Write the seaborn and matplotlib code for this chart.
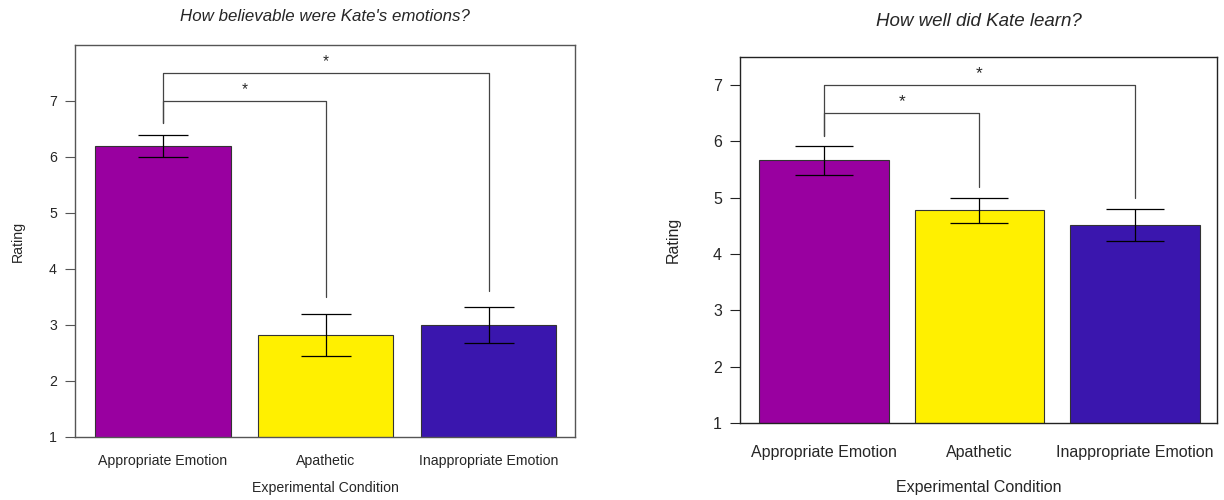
import pandas as pd
import seaborn as sns
import matplotlib.pyplot as plt

# dados
conditions = ['Appropriate Emotion', 'Apathetic', 'Inappropriate Emotion']
colors = ['#9900a0', '#fff000', '#3a16ae']

believe_mean = [6.2, 2.82, 3.0]
believe_low = [6.0, 2.45, 2.67]
believe_high = [6.4, 3.2, 3.33]

learn_mean = [5.67, 4.78, 4.51]
learn_low = [5.41, 4.56, 4.23]
learn_high = [5.92, 5.0, 4.8]

# colchetes de significância: (barra alvo, altura, base esquerda, base direita, altura da estrela)
believe_brackets = [(1, 7.0, 6.6, 3.5, 7.2), (2, 7.5, 6.6, 3.6, 7.7)]
learn_brackets = [(1, 6.5, 6.1, 5.2, 6.7), (2, 7.0, 6.1, 5.0, 7.2)]

sns.set_style('white')
plt.rcParams['font.family'] = ['Liberation Sans', 'DejaVu Sans']

fig = plt.figure(figsize=(12.24, 5), dpi=100)
ax1 = fig.add_axes([0.0613, 0.126, 0.4085, 0.784])
ax2 = fig.add_axes([0.6046, 0.154, 0.39, 0.732])


def painel(ax, mean, low, high, brackets, title, ylim, yticks, fs, capsize,
           frame, xpad, xlpad, tpad, ylpad):
    df = pd.DataFrame({'Condition': conditions, 'Rating': mean})
    sns.barplot(data=df, x='Condition', y='Rating', hue='Condition',
                palette=colors, saturation=1, width=0.83, edgecolor='#333333',
                linewidth=0.8, errorbar=None, legend=False, ax=ax)
    # barras de erro
    for i, (m, lo, hi) in enumerate(zip(mean, low, high)):
        ax.errorbar(i, m, yerr=[[m - lo], [hi - m]], color='black', lw=0.9,
                    capsize=capsize, capthick=0.9)
    # colchetes
    for j, h, base0, base1, star in brackets:
        ax.plot([0, 0, j, j], [base0, h, h, base1], color='#444444', lw=0.9)
        ax.text(j / 2, star, '*', ha='center', va='center', fontsize=fs + 1)
    ax.set_ylim(*ylim)
    ax.set_xlim(-0.54, 2.53)
    ax.set_yticks(yticks)
    ax.tick_params(axis='y', left=True, length=7, width=0.8, color=frame,
                   labelsize=fs, pad=6)
    ax.tick_params(axis='x', bottom=False, labelsize=fs, pad=xpad)
    ax.set_xlabel('Experimental Condition', fontsize=fs, labelpad=xlpad)
    ax.set_ylabel('Rating', fontsize=fs, labelpad=ylpad)
    ax.set_title(title, fontsize=fs + 2, style='italic', pad=tpad)
    for s in ax.spines.values():
        s.set_color(frame)
        s.set_linewidth(1)


painel(ax1, believe_mean, believe_low, believe_high, believe_brackets,
       "How believable were Kate's emotions?", (1, 8), range(1, 8), 10.2, 18,
       '#555555', 9, 9, 17, 17)
painel(ax2, learn_mean, learn_low, learn_high, learn_brackets,
       'How well did Kate learn?', (1, 7.5), range(1, 8), 11.5, 21,
       '#222222', 12, 15, 22, 23)

plt.savefig('out.png', dpi=100)
